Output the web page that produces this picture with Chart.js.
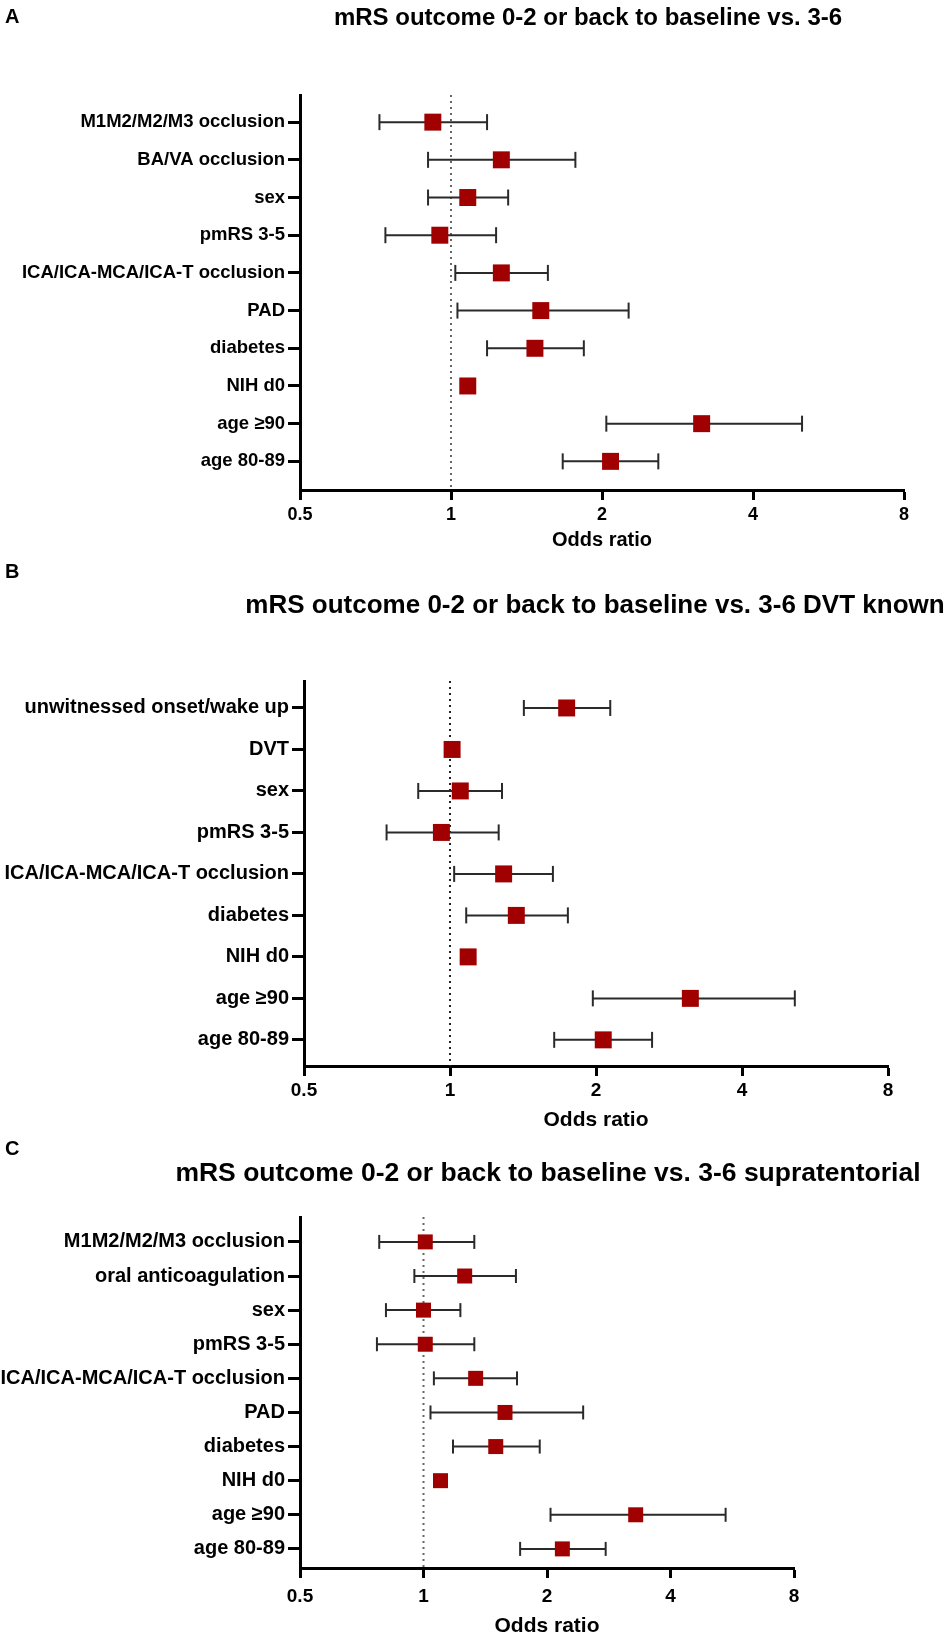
<!DOCTYPE html>
<html><head><meta charset="utf-8">
<script src="https://cdn.jsdelivr.net/npm/chart.js@4.4.1/dist/chart.umd.min.js"></script>
<style>
html,body{margin:0;padding:0;background:#fff;}
body{width:944px;height:1637px;position:relative;overflow:hidden;font-family:"Liberation Sans",Arial,sans-serif;}
canvas{position:absolute;left:0;}
.lt{position:absolute;left:5px;font-weight:bold;font-size:20px;line-height:22px;color:#000;}
.tt{position:absolute;white-space:nowrap;font-weight:bold;line-height:1;color:#000;transform:translate(-50%,-50%);}
</style></head><body>
<canvas id="cA" width="944" height="555" style="top:0"></canvas>
<canvas id="cB" width="944" height="580" style="top:555px"></canvas>
<canvas id="cC" width="944" height="502" style="top:1135px"></canvas>
<div class="lt" style="top:5px">A</div>
<div class="lt" style="top:560px">B</div>
<div class="lt" style="top:1137px">C</div>
<div class="tt" id="tA" style="left:588px;top:17px;font-size:24px"></div>
<div class="tt" id="tB" style="left:595px;top:604px;font-size:26px"></div>
<div class="tt" id="tC" style="left:548px;top:1172px;font-size:26.5px"></div>
<script>
// ---- data ----
const xTicks = [0.5, 1, 2, 4, 8];
const refOR = 1;
const axisTitle = "Odds ratio";

const titleA = "mRS outcome 0-2 or back to baseline vs. 3-6";
const catsA = ["M1M2/M2/M3 occlusion","BA/VA occlusion","sex","pmRS 3-5","ICA/ICA-MCA/ICA-T occlusion","PAD","diabetes","NIH d0","age ≥90","age 80-89"];
const orA = [0.92, 1.26, 1.08, 0.95, 1.26, 1.51, 1.47, 1.08, 3.16, 2.08];
const loA = [0.72, 0.90, 0.90, 0.74, 1.02, 1.03, 1.18, null, 2.04, 1.67];
const hiA = [1.18, 1.77, 1.30, 1.23, 1.56, 2.26, 1.84, null, 5.01, 2.59];

const titleB = "mRS outcome 0-2 or back to baseline vs. 3-6 DVT known";
const catsB = ["unwitnessed onset/wake up","DVT","sex","pmRS 3-5","ICA/ICA-MCA/ICA-T occlusion","diabetes","NIH d0","age ≥90","age 80-89"];
const orB = [1.74, 1.01, 1.05, 0.96, 1.29, 1.37, 1.09, 3.13, 2.07];
const loB = [1.42, null, 0.86, 0.74, 1.02, 1.08, null, 1.97, 1.64];
const hiB = [2.14, null, 1.28, 1.26, 1.63, 1.75, null, 5.14, 2.61];

const titleC = "mRS outcome 0-2 or back to baseline vs. 3-6 supratentorial";
const catsC = ["M1M2/M2/M3 occlusion","oral anticoagulation","sex","pmRS 3-5","ICA/ICA-MCA/ICA-T occlusion","PAD","diabetes","NIH d0","age ≥90","age 80-89"];
const orC = [1.01, 1.26, 1.00, 1.01, 1.34, 1.58, 1.50, 1.10, 3.29, 2.18];
const loC = [0.78, 0.95, 0.81, 0.77, 1.06, 1.04, 1.18, null, 2.04, 1.72];
const hiC = [1.33, 1.68, 1.23, 1.33, 1.69, 2.45, 1.92, null, 5.45, 2.78];

// ---- drawing ----
const FF = '"Liberation Sans", Arial, sans-serif';
function makePanel(id, titleId, title, cats, or, lo, hi, L) {
  document.getElementById(titleId).textContent = title;
  const pts = or.map((v, i) => ({x: v, y: i + 1}));
  const whisk = [], caps = [];
  lo.forEach((l, i) => {
    if (l == null || hi[i] == null) return;
    whisk.push({x: l, y: i + 1}, {x: hi[i], y: i + 1}, {x: null, y: null});
    caps.push({x: l, y: i + 1}, {x: hi[i], y: i + 1});
  });
  new Chart(document.getElementById(id), {
    type: 'scatter',
    data: {datasets: [
      {data: pts, pointStyle: 'rect', pointRadius: L.mr, pointHoverRadius: L.mr,
       pointBackgroundColor: '#a00000', pointBorderColor: '#a00000', pointBorderWidth: 0, order: 0},
      {type: 'line', data: whisk, showLine: true, spanGaps: false, pointRadius: 0,
       borderColor: '#2a2a2a', borderWidth: 2, order: 1},
      {data: caps, pointStyle: 'line', pointRotation: 90, pointRadius: L.cr, pointHoverRadius: L.cr,
       pointBorderColor: '#2a2a2a', pointBorderWidth: 2, order: 1},
      {type: 'line', data: [{x: refOR, y: L.ymin}, {x: refOR, y: L.ymax}], showLine: true, pointRadius: 0,
       borderColor: L.dot, borderWidth: 2, borderDash: [2, 4], order: 2}
    ]},
    options: {
      responsive: false, animation: false, devicePixelRatio: 1,
      layout: {padding: {left: 0, right: L.padR, top: L.padT, bottom: 0}},
      plugins: {legend: {display: false}, tooltip: {enabled: false}, title: {display: false}},
      scales: {
        x: {
          type: 'logarithmic', min: 0.5, max: 8,
          afterBuildTicks: s => { s.ticks = xTicks.map(v => ({value: v})); },
          afterFit: s => { s.height = L.xH; },
          ticks: {callback: v => String(v), color: '#000', autoSkip: false, maxRotation: 0,
                  font: {family: FF, size: L.xf, weight: 'bold'}, padding: L.xPad},
          grid: {drawOnChartArea: false, drawTicks: true, tickLength: 10, tickWidth: 3, tickColor: '#000'},
          border: {display: true, color: '#000', width: 3},
          title: {display: true, text: axisTitle, color: '#000',
                  font: {family: FF, size: L.af, weight: 'bold'}, padding: {top: 0, bottom: L.atPad}}
        },
        y: {
          type: 'linear', reverse: true, min: L.ymin, max: L.ymax,
          afterBuildTicks: s => { s.ticks = cats.map((c, i) => ({value: i + 1})); },
          afterFit: s => { s.width = L.yW; },
          ticks: {callback: v => cats[v - 1], color: '#000', autoSkip: false,
                  font: {family: FF, size: L.yf, weight: 'bold'}, padding: 3},
          grid: {drawOnChartArea: false, drawTicks: true, tickLength: 12, tickWidth: 3, tickColor: '#000'},
          border: {display: true, color: '#000', width: 3}
        }
      }
    }
  });
}

makePanel('cA', 'tA', titleA, catsA, orA, loA, hiA,
  {padR: 40, padT: 95, yW: 300, xH: 65, xf: 18, xPad: 4, af: 20, atPad: 3,
   yf: 18.5, ymin: 0.28, ymax: 10.76, mr: 12, cr: 8, dot: '#666'});
makePanel('cB', 'tB', titleB, catsB, orB, loB, hiB,
  {padR: 56, padT: 126, yW: 304, xH: 69, xf: 19, xPad: 3, af: 21, atPad: 2,
   yf: 20, ymin: 0.35, ymax: 9.63, mr: 12, cr: 8, dot: '#222'});
makePanel('cC', 'tC', titleC, catsC, orC, loC, hiC,
  {padR: 150, padT: 82, yW: 300, xH: 69, xf: 19, xPad: 7, af: 21, atPad: -2,
   yf: 20, ymin: 0.27, ymax: 10.56, mr: 10.6, cr: 7, dot: '#666'});
</script>
</body></html>
